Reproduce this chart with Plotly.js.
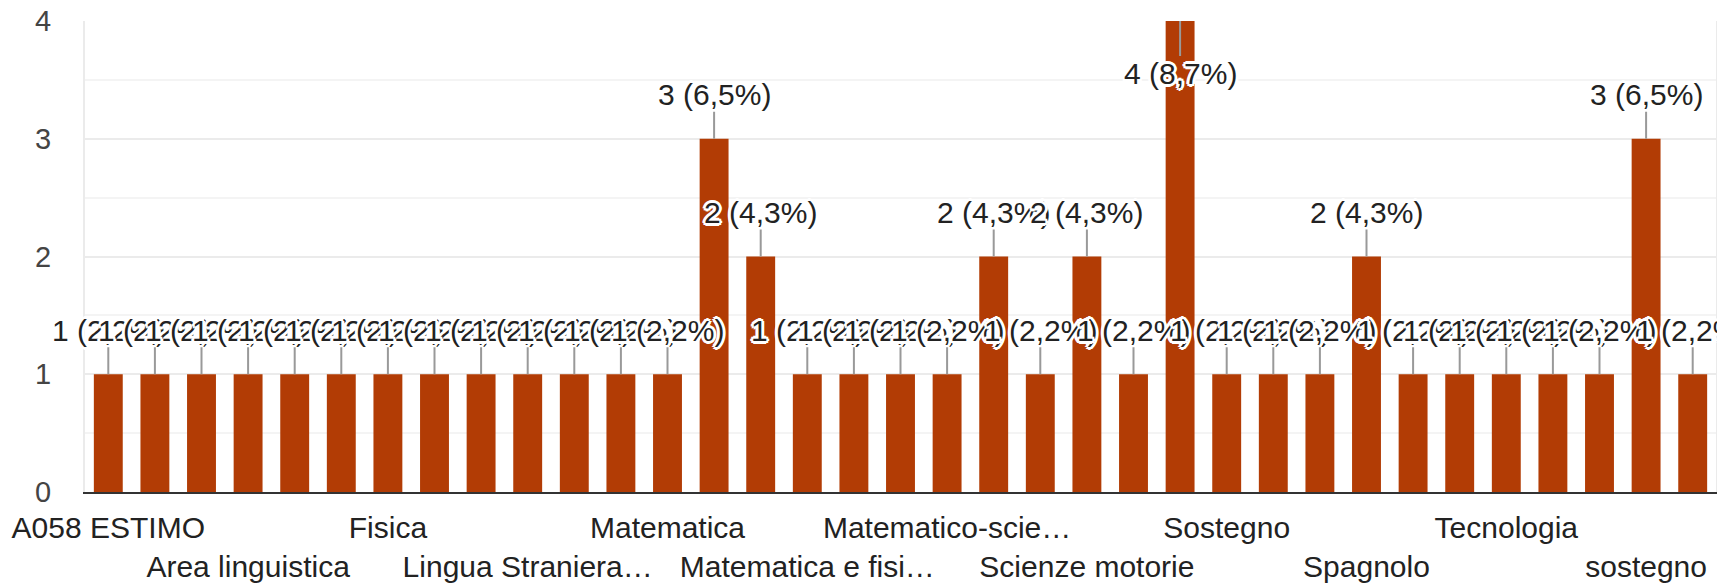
<!DOCTYPE html>
<html>
<head>
<meta charset="utf-8">
<script src="https://cdn.plot.ly/plotly-3.0.1.min.js"></script>
<style>
  html, body { margin: 0; padding: 0; background: #fff; }
  #chart { width: 1717px; height: 586px; }
</style>
</head>
<body>
<div id="chart"></div>
<script>
// Categories (only every third label is readable in the reference; the others are hidden there)
const categories = [
  "A058 ESTIMO", "(voce 2)", "(voce 3)",
  "Area linguistica", "(voce 5)", "(voce 6)",
  "Fisica", "(voce 8)", "(voce 9)",
  "Lingua Straniera…", "(voce 11)", "(voce 12)",
  "Matematica", "(voce 14)", "(voce 15)",
  "Matematica e fisi…", "(voce 17)", "(voce 18)",
  "Matematico-scie…", "(voce 20)", "(voce 21)",
  "Scienze motorie", "(voce 23)", "(voce 24)",
  "Sostegno", "(voce 26)", "(voce 27)",
  "Spagnolo", "(voce 29)", "(voce 30)",
  "Tecnologia", "(voce 32)", "(voce 33)",
  "sostegno", "(voce 35)"
];
const counts = [
  1, 1, 1, 1, 1, 1, 1, 1, 1, 1, 1, 1, 1,
  3, 2,
  1, 1, 1, 1,
  2, 1, 2, 1, 4,
  1, 1, 1, 2,
  1, 1, 1, 1, 1,
  3, 1
];
// Tick labels shown on the axis (two alternating rows)
const labelsRow1 = ["A058 ESTIMO", "Fisica", "Matematica", "Matematico-scie…", "Sostegno", "Tecnologia"];
const labelsRow2 = ["Area linguistica", "Lingua Straniera…", "Matematica e fisi…", "Scienze motorie", "Spagnolo", "sostegno"];
const yTicks = [0, 1, 2, 3, 4];

const FONT = "Arial, 'Liberation Sans', sans-serif";
const total = counts.reduce((a, b) => a + b, 0);
const yMax = 4;

const tickvals = [];
const ticktext = [];
categories.forEach(c => {
  if (labelsRow1.includes(c)) { tickvals.push(c); ticktext.push(c); }
  else if (labelsRow2.includes(c)) { tickvals.push(c); ticktext.push("<br>" + c); }
});

const halo = [
  "2px 0 0 #fff", "-2px 0 0 #fff", "0 2px 0 #fff", "0 -2px 0 #fff",
  "2px 2px 0 #fff", "-2px -2px 0 #fff", "2px -2px 0 #fff", "-2px 2px 0 #fff",
  "3px 0 0 #fff", "-3px 0 0 #fff", "0 3px 0 #fff", "0 -3px 0 #fff"
].join(", ");

const annotations = categories.map((c, i) => {
  const v = counts[i];
  const pct = (v / total * 100).toFixed(1).replace(".", ",");
  const atTop = v >= yMax;
  return {
    x: c, y: v, xref: "x", yref: "y",
    text: v + " (" + pct + "%)",
    showarrow: true, arrowhead: 0, arrowwidth: 2, arrowcolor: "#999999",
    ax: 0, ay: atTop ? 52 : -44, standoff: 0, startstandoff: 0,
    font: { family: FONT, size: 30, color: "#222222", shadow: halo },
    borderpad: 0
  };
});

const trace = {
  type: "bar",
  x: categories,
  y: counts,
  marker: { color: "#b23c05" },
  hoverinfo: "skip"
};

const layout = {
  width: 1717, height: 586,
  margin: { l: 85, r: 1, t: 21, b: 94 },
  paper_bgcolor: "#ffffff", plot_bgcolor: "#ffffff",
  bargap: 0.38,
  showlegend: false,
  font: { family: FONT, color: "#222222" },
  xaxis: {
    type: "category",
    categoryorder: "array", categoryarray: categories,
    range: [-0.5, categories.length - 0.5], autorange: false,
    tickmode: "array", tickvals: tickvals, ticktext: ticktext,
    tickangle: 0, automargin: false,
    tickfont: { family: FONT, size: 30, color: "#222222" },
    ticks: "", ticklabelstandoff: 8,
    showgrid: false, zeroline: false,
    showline: true, linecolor: "#333333", linewidth: 2,
    fixedrange: true
  },
  yaxis: {
    range: [0, 4], autorange: false, automargin: false,
    tickmode: "array", tickvals: yTicks, ticktext: yTicks.map(String),
    tickfont: { family: FONT, size: 29, color: "#444444" },
    ticks: "", ticklabelstandoff: 26,
    showgrid: true, gridcolor: "#ebebeb", gridwidth: 2,
    minor: { dtick: 0.5, showgrid: true, gridcolor: "#f4f4f4", gridwidth: 2 },
    zeroline: false,
    showline: true, linecolor: "#ebebeb", linewidth: 2, mirror: true,
    fixedrange: true
  },
  annotations: annotations
};

Plotly.newPlot("chart", [trace], layout, { displayModeBar: false, staticPlot: true });
</script>
</body>
</html>
